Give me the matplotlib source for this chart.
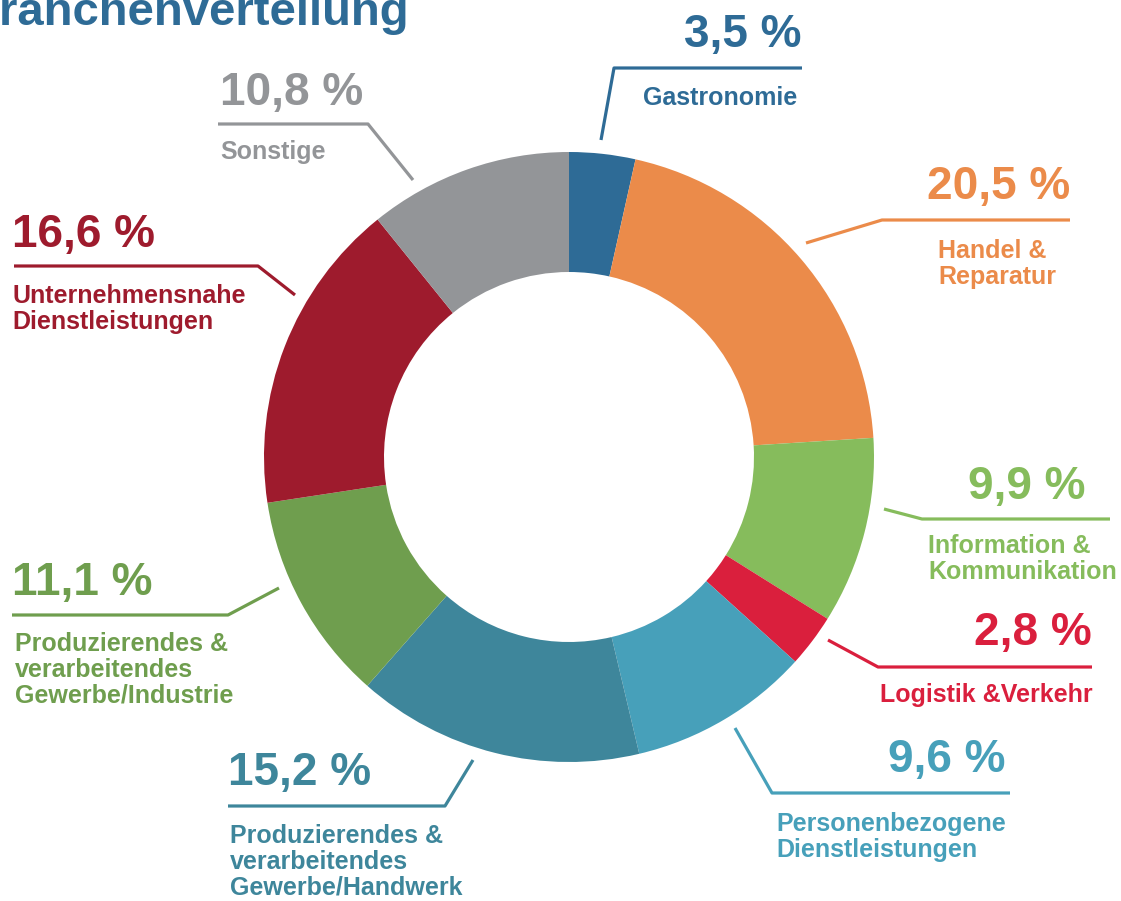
import matplotlib.pyplot as plt

# data
branchen = ["Gastronomie", "Handel &\nReparatur", "Information &\nKommunikation",
            "Logistik &Verkehr", "Personenbezogene\nDienstleistungen",
            "Produzierendes &\nverarbeitendes\nGewerbe/Handwerk",
            "Produzierendes &\nverarbeitendes\nGewerbe/Industrie",
            "Unternehmensnahe\nDienstleistungen", "Sonstige"]
anteile = [3.5, 20.5, 9.9, 2.8, 9.6, 15.2, 11.1, 16.6, 10.8]
farben = ["#2E6B96", "#EB8B4A", "#86BC5C", "#DA1F3D", "#47A0BA",
          "#3E869B", "#6F9E4E", "#9E1B2D", "#939598"]

W, H = 1121, 901
cx, cy, r_out, r_in = 569, 457, 305, 185

# layout per label (pixel coords, y from top):
# leader start, elbow, line end, value x / align, name x / align, value y, name y
layout = [
    ((601, 140), (614, 68), (802, 68), (802, "right"), (797, "right"), 35, 98),
    ((806, 243), (882, 220), (1070, 220), (1070, "right"), (938, "left"), 187, 264),
    ((884, 509), (922, 519), (1110, 519), (1086, "right"), (928, "left"), 487, 559),
    ((828, 640), (878, 667), (1092, 667), (1092, "right"), (1093, "right"), 633, 695),
    ((735, 728), (772, 793), (1010, 793), (1006, "right"), (776, "left"), 760, 837),
    ((473, 760), (445, 806), (228, 806), (228, "left"), (230, "left"), 773, 862),
    ((279, 588), (228, 615), (12, 615), (12, "left"), (15, "left"), 583, 670),
    ((295, 295), (258, 266), (14, 266), (12, "left"), (12, "left"), 235, 309),
    ((413, 180), (368, 124), (218, 124), (220, "left"), (220, "left"), 93, 152),
]

plt.rcParams['font.family'] = ['Liberation Sans', 'DejaVu Sans']

fig = plt.figure(figsize=(W / 100, H / 100), dpi=100)
ax = fig.add_axes([0, 0, 1, 1])
ax.pie(anteile, colors=farben, startangle=90, counterclock=False,
       center=(cx, H - cy), radius=r_out,
       wedgeprops=dict(width=r_out - r_in, linewidth=0))
ax.set_xlim(0, W)
ax.set_ylim(0, H)
ax.set_aspect('equal')
ax.axis('off')

for name, wert, farbe, lay in zip(branchen, anteile, farben, layout):
    p0, p1, p2, (vx, va), (nx, na), vy, ny = lay
    ax.plot([p0[0], p1[0], p2[0]], [H - p0[1], H - p1[1], H - p2[1]],
            color=farbe, lw=2.3, solid_capstyle='butt')
    ax.text(vx, H - vy, f"{wert:.1f} %".replace(".", ","), color=farbe,
            fontsize=33, fontweight='bold', ha=va, va='center')
    ax.text(nx, H - ny, name, color=farbe, fontsize=18, fontweight='bold',
            ha=na, va='center', linespacing=1.1)

ax.text(-34, H - 25, "Branchenverteilung", color="#2E6B96", fontsize=34,
        fontweight='bold', ha='left', va='baseline')

fig.savefig("out.png", dpi=100)
